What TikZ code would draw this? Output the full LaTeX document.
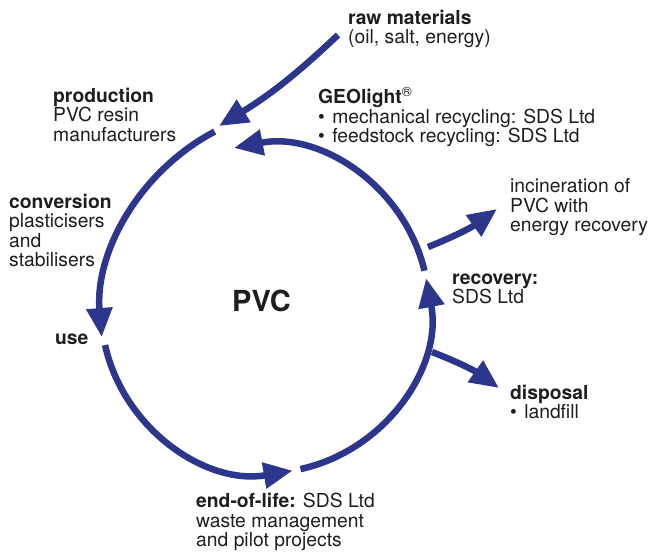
\documentclass[tikz,border=0pt]{standalone}
\usepackage{fontspec}
\setmainfont{TeX Gyre Heros}
\usetikzlibrary{arrows.meta}
\definecolor{flowblue}{RGB}{44,54,140}
\definecolor{ink}{RGB}{30,30,30}
\begin{document}
\begin{tikzpicture}[x=1pt,y=1pt,
  flow/.style={draw=flowblue, line width=6.5pt, -{Triangle[length=29pt,width=25pt]}},
  lbl/.style={anchor=base west, inner sep=0pt, align=left, text=ink, font=\fontsize{19.3}{19.5}\selectfont},
  big/.style={anchor=base west, inner sep=0pt, text=ink, font=\fontsize{29}{30}\selectfont\bfseries}]
\useasboundingbox (0,0) rectangle (650,556);
% circle centres
\coordinate (C) at (265,247);
\coordinate (L) at (314,236);
% arc end points
\path (L) ++(117.8:213) coordinate (leftS);
\path (C) ++(192.7:164) coordinate (botS);
\path (C) ++(282.5:164) coordinate (lrS);
\path (C) ++(13.5:164) coordinate (urS);
% cycle arcs
\draw[flow] (leftS) arc[start angle=117.8, end angle=184.6, radius=213];
\draw[flow] (botS) arc[start angle=192.7, end angle=279.7, radius=164];
\draw[flow] (lrS) arc[start angle=282.5, end angle=370.8, radius=164];
\draw[flow] (urS) arc[start angle=13.5, end angle=100.9, radius=164];
% side arrows
\coordinate (rawS) at (338,521);
\coordinate (rawE) at (219,430);
\coordinate (incS) at (428,309);
\coordinate (incE) at (497,347);
\coordinate (disS) at (432,204);
\coordinate (disE) at (499,168);
\draw[flow] (rawS) to[bend left=6] (rawE);
\draw[flow] (incS) to[bend right=7] (incE);
\draw[flow] (disS) to[bend left=7] (disE);
% labels (anchored at the baseline of their last line)
\node[lbl] (raw) at (348,512) {\textbf{raw materials}\\(oil, salt, energy)};
\node[lbl] (prod) at (53,414.5) {\textbf{production}\\PVC resin\\manufacturers};
\node[lbl] (conv) at (9,289) {\textbf{conversion}\\plasticisers\\and\\stabilisers};
\node[lbl] (use) at (55,211) {\textbf{use}};
\node[big] (pvc) at (232,244) {PVC};
\node[lbl] (geo) at (318,413) {\textbf{GEOlight}\textsuperscript{®}\\•\hspace{0.1em} mechanical recycling: SDS Ltd\\•\hspace{0.1em} feedstock recycling: SDS Ltd};
\node[lbl] (incin) at (510,324) {incineration of\\PVC with\\energy recovery};
\node[lbl] (recov) at (452,252) {\textbf{recovery:}\\SDS Ltd};
\node[lbl] (disp) at (510,137) {\textbf{disposal}\\•\hspace{0.1em} landfill};
\node[lbl] (eol) at (196,9) {\textbf{end-of-life:} SDS Ltd\\waste management\\and pilot projects};
\end{tikzpicture}
\end{document}
